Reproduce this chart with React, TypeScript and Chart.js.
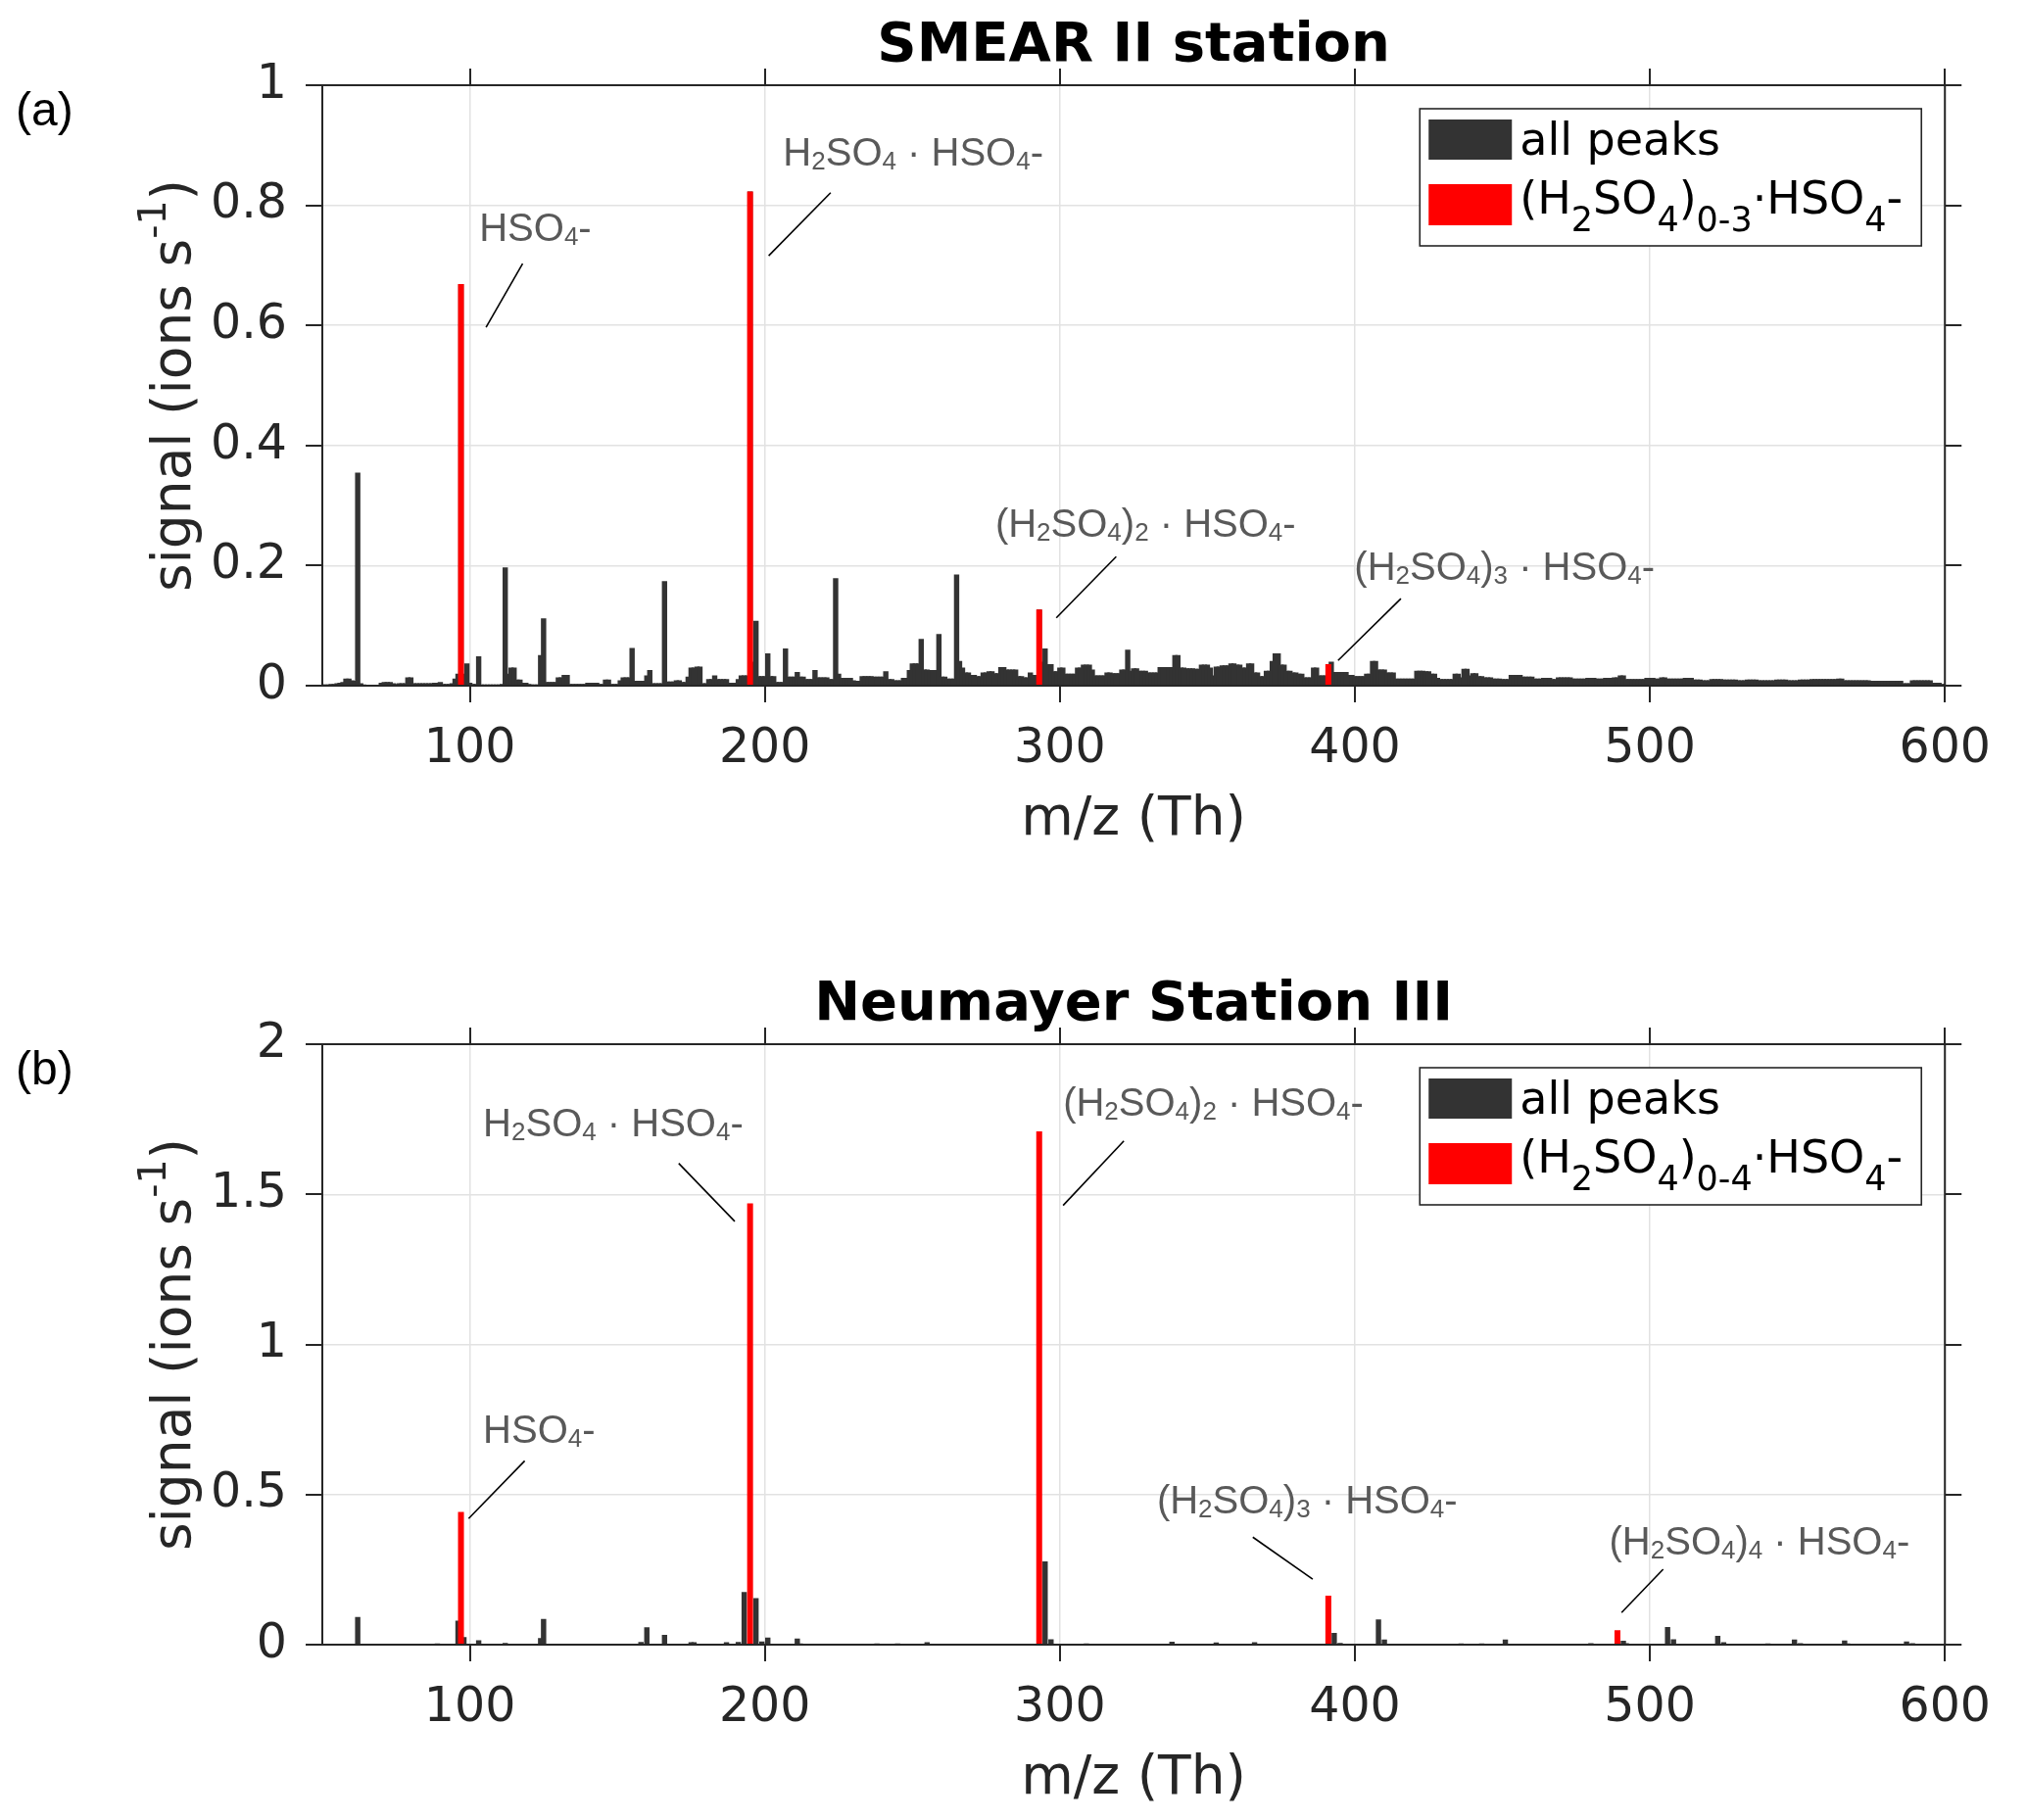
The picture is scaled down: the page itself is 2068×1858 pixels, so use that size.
import { useEffect, useRef } from 'react';
import { Chart, registerables } from 'chart.js';

Chart.register(...registerables);

// ---- data -------------------------------------------------------------

const mzTicks = [100, 200, 300, 400, 500, 600];
const MZ_MIN = 50;
const MZ_MAX = 600;

// (a) SMEAR II: unit-mass spectrum, one value per Th from m/z 50 to 600
const smearStartMz = 50;
const smearSignal = [
  /* 50 */ 0.002, 0.002, 0.002, 0.003, 0.003, 0.004, 0.005, 0.006, 0.012, 0.012,
  /* 60 */ 0.009, 0.008, 0.355, 0.004, 0.002, 0.001, 0.001, 0.001, 0.001, 0.001,
  /* 70 */ 0.005, 0.006, 0.006, 0.006, 0.004, 0.003, 0.004, 0.004, 0.004, 0.014,
  /* 80 */ 0.014, 0.004, 0.004, 0.004, 0.004, 0.004, 0.004, 0.004, 0.005, 0.005,
  /* 90 */ 0.006, 0.003, 0.003, 0.003, 0.004, 0.012, 0.020, 0.669, 0.020, 0.037,
  /* 100 */ 0.005, 0.003, 0.003, 0.049, 0.002, 0.002, 0.002, 0.002, 0.002, 0.002,
  /* 110 */ 0.002, 0.003, 0.197, 0.020, 0.030, 0.030, 0.010, 0.010, 0.005, 0.005,
  /* 120 */ 0.003, 0.002, 0.002, 0.002, 0.051, 0.112, 0.006, 0.006, 0.006, 0.006,
  /* 130 */ 0.014, 0.014, 0.018, 0.018, 0.003, 0.003, 0.003, 0.003, 0.003, 0.003,
  /* 140 */ 0.005, 0.005, 0.005, 0.005, 0.003, 0.003, 0.010, 0.010, 0.003, 0.003,
  /* 150 */ 0.003, 0.009, 0.014, 0.014, 0.014, 0.063, 0.008, 0.008, 0.008, 0.008,
  /* 160 */ 0.017, 0.026, 0.004, 0.004, 0.004, 0.004, 0.174, 0.007, 0.007, 0.007,
  /* 170 */ 0.009, 0.009, 0.006, 0.006, 0.015, 0.030, 0.030, 0.032, 0.032, 0.004,
  /* 180 */ 0.004, 0.011, 0.011, 0.017, 0.011, 0.011, 0.011, 0.011, 0.005, 0.005,
  /* 190 */ 0.005, 0.011, 0.017, 0.017, 0.017, 0.823, 0.040, 0.108, 0.016, 0.016,
  /* 200 */ 0.016, 0.054, 0.016, 0.016, 0.006, 0.006, 0.006, 0.062, 0.015, 0.015,
  /* 210 */ 0.015, 0.023, 0.015, 0.015, 0.011, 0.011, 0.011, 0.026, 0.014, 0.014,
  /* 220 */ 0.014, 0.014, 0.011, 0.011, 0.179, 0.020, 0.013, 0.013, 0.013, 0.013,
  /* 230 */ 0.009, 0.008, 0.008, 0.016, 0.016, 0.016, 0.016, 0.015, 0.015, 0.015,
  /* 240 */ 0.015, 0.024, 0.011, 0.011, 0.009, 0.009, 0.009, 0.013, 0.013, 0.026,
  /* 250 */ 0.037, 0.037, 0.037, 0.078, 0.027, 0.027, 0.026, 0.026, 0.026, 0.086,
  /* 260 */ 0.015, 0.015, 0.012, 0.012, 0.012, 0.185, 0.041, 0.030, 0.022, 0.022,
  /* 270 */ 0.018, 0.018, 0.016, 0.016, 0.022, 0.022, 0.024, 0.024, 0.021, 0.021,
  /* 280 */ 0.031, 0.031, 0.027, 0.027, 0.027, 0.027, 0.016, 0.016, 0.014, 0.014,
  /* 290 */ 0.022, 0.018, 0.018, 0.127, 0.040, 0.062, 0.036, 0.036, 0.024, 0.024,
  /* 300 */ 0.030, 0.030, 0.020, 0.020, 0.020, 0.020, 0.030, 0.030, 0.035, 0.035,
  /* 310 */ 0.035, 0.027, 0.017, 0.017, 0.017, 0.017, 0.022, 0.022, 0.021, 0.021,
  /* 320 */ 0.021, 0.027, 0.027, 0.060, 0.025, 0.029, 0.029, 0.025, 0.025, 0.025,
  /* 330 */ 0.022, 0.022, 0.022, 0.022, 0.031, 0.031, 0.031, 0.031, 0.031, 0.051,
  /* 340 */ 0.051, 0.030, 0.030, 0.029, 0.029, 0.029, 0.028, 0.028, 0.035, 0.035,
  /* 350 */ 0.035, 0.030, 0.017, 0.032, 0.032, 0.034, 0.034, 0.034, 0.037, 0.037,
  /* 360 */ 0.035, 0.035, 0.030, 0.030, 0.037, 0.037, 0.022, 0.022, 0.016, 0.016,
  /* 370 */ 0.025, 0.025, 0.041, 0.054, 0.054, 0.035, 0.035, 0.025, 0.025, 0.022,
  /* 380 */ 0.022, 0.020, 0.020, 0.014, 0.014, 0.014, 0.030, 0.030, 0.017, 0.017,
  /* 390 */ 0.017, 0.036, 0.040, 0.023, 0.023, 0.023, 0.023, 0.023, 0.018, 0.018,
  /* 400 */ 0.016, 0.016, 0.016, 0.016, 0.020, 0.020, 0.041, 0.041, 0.027, 0.027,
  /* 410 */ 0.027, 0.022, 0.022, 0.022, 0.012, 0.012, 0.012, 0.012, 0.012, 0.012,
  /* 420 */ 0.012, 0.025, 0.025, 0.025, 0.024, 0.024, 0.020, 0.020, 0.013, 0.011,
  /* 430 */ 0.011, 0.011, 0.011, 0.011, 0.020, 0.020, 0.014, 0.028, 0.028, 0.017,
  /* 440 */ 0.021, 0.021, 0.016, 0.016, 0.014, 0.014, 0.014, 0.012, 0.012, 0.012,
  /* 450 */ 0.011, 0.011, 0.011, 0.018, 0.018, 0.018, 0.018, 0.015, 0.015, 0.015,
  /* 460 */ 0.015, 0.012, 0.012, 0.012, 0.013, 0.013, 0.013, 0.011, 0.011, 0.014,
  /* 470 */ 0.014, 0.014, 0.014, 0.014, 0.012, 0.012, 0.012, 0.012, 0.012, 0.013,
  /* 480 */ 0.013, 0.013, 0.012, 0.012, 0.012, 0.013, 0.013, 0.013, 0.014, 0.014,
  /* 490 */ 0.017, 0.017, 0.011, 0.011, 0.011, 0.011, 0.011, 0.011, 0.011, 0.013,
  /* 500 */ 0.013, 0.013, 0.012, 0.012, 0.014, 0.014, 0.012, 0.012, 0.012, 0.012,
  /* 510 */ 0.012, 0.012, 0.013, 0.013, 0.013, 0.010, 0.010, 0.010, 0.009, 0.009,
  /* 520 */ 0.009, 0.011, 0.011, 0.011, 0.011, 0.010, 0.010, 0.010, 0.010, 0.010,
  /* 530 */ 0.009, 0.009, 0.009, 0.010, 0.010, 0.010, 0.010, 0.009, 0.009, 0.009,
  /* 540 */ 0.009, 0.009, 0.009, 0.010, 0.010, 0.010, 0.010, 0.009, 0.009, 0.009,
  /* 550 */ 0.009, 0.010, 0.010, 0.010, 0.010, 0.011, 0.011, 0.011, 0.011, 0.011,
  /* 560 */ 0.011, 0.011, 0.011, 0.011, 0.012, 0.012, 0.009, 0.009, 0.009, 0.009,
  /* 570 */ 0.009, 0.009, 0.009, 0.009, 0.009, 0.008, 0.008, 0.008, 0.008, 0.008,
  /* 580 */ 0.008, 0.008, 0.008, 0.008, 0.008, 0.008, 0.004, 0.004, 0.004, 0.009,
  /* 590 */ 0.009, 0.009, 0.009, 0.009, 0.009, 0.009, 0.005, 0.005, 0.005, 0.003,
  /* 600 */ 0.003,
];
const smearClusterMz = [97, 195, 293, 391];
const smearClusterSignal = [0.669, 0.823, 0.127, 0.036];
const smearYTicks = [0, 0.2, 0.4, 0.6, 0.8, 1];

// (b) Neumayer: mostly empty spectrum, only the visible peaks
const neumayerMz = [
  62, 78, 89, 96, 98, 103, 112, 124, 125, 152,
  158, 160, 166, 175, 176, 187, 191, 193, 197, 199,
  201, 211, 212, 238, 245, 252, 255, 273, 281, 295,
  297, 309, 338, 353, 366, 380, 393, 395, 408, 410,
  422, 436, 443, 451, 463, 480, 491, 492, 506, 508,
  523, 525, 540, 549, 551, 566, 567, 587, 589, 592,
];
const neumayerSignal = [
  0.092, 0.003, 0.004, 0.080, 0.025, 0.015, 0.006, 0.022, 0.086, 0.003,
  0.009, 0.058, 0.033, 0.008, 0.008, 0.008, 0.009, 0.175, 0.155, 0.011,
  0.024, 0.020, 0.004, 0.004, 0.004, 0.003, 0.008, 0.003, 0.003, 0.277,
  0.018, 0.004, 0.010, 0.007, 0.008, 0.003, 0.039, 0.006, 0.084, 0.017,
  0.003, 0.004, 0.004, 0.017, 0.003, 0.005, 0.013, 0.005, 0.059, 0.018,
  0.029, 0.008, 0.004, 0.017, 0.005, 0.014, 0.004, 0.011, 0.005, 0.003,
];
const neumayerClusterMz = [97, 195, 293, 391, 489];
const neumayerClusterSignal = [0.442, 1.47, 1.71, 0.163, 0.048];
const neumayerYTicks = [0, 0.5, 1, 1.5, 2];

// ---- text pieces (with sub/superscripts) -------------------------------

type Seg = { t: string; sub?: boolean; sup?: boolean };
const sub = (t: string): Seg => ({ t, sub: true });

const hso4Label: Seg[] = [{ t: 'HSO' }, sub('4'), { t: '-' }];
const dimerLabel: Seg[] = [{ t: 'H' }, sub('2'), { t: 'SO' }, sub('4'), { t: ' · HSO' }, sub('4'), { t: '-' }];
const clusterLabel = (n: string): Seg[] => [
  { t: '(H' }, sub('2'), { t: 'SO' }, sub('4'), { t: ')' }, sub(n), { t: ' · HSO' }, sub('4'), { t: '-' },
];
const legendClusterLabel = (range: string): Seg[] => [
  { t: '(H' }, sub('2'), { t: 'SO' }, sub('4'), { t: ')' }, sub(range), { t: '·HSO' }, sub('4'), { t: '-' },
];
const yTitle: Seg[] = [{ t: 'signal (ions s' }, { t: '-1', sup: true }, { t: ')' }];

type Note = { label: Seg[]; at: [number, number]; from: [number, number]; to: [number, number] };

const smearNotes: Note[] = [
  { label: hso4Label, at: [103.2, 0.741], from: [117.9, 0.703], to: [105.5, 0.597] },
  { label: dimerLabel, at: [206.2, 0.866], from: [222.3, 0.821], to: [201.3, 0.716] },
  { label: clusterLabel('2'), at: [278.1, 0.248], from: [319.1, 0.215], to: [298.8, 0.113] },
  { label: clusterLabel('3'), at: [399.8, 0.176], from: [415.6, 0.145], to: [394.3, 0.042] },
];

const neumayerNotes: Note[] = [
  { label: dimerLabel, at: [104.5, 1.694], from: [170.8, 1.603], to: [189.8, 1.41] },
  { label: clusterLabel('2'), at: [301.1, 1.762], from: [321.7, 1.678], to: [301.1, 1.463] },
  { label: hso4Label, at: [104.5, 0.671], from: [118.6, 0.612], to: [99.6, 0.42] },
  { label: clusterLabel('3'), at: [332.9, 0.436], from: [365.4, 0.358], to: [385.7, 0.218] },
  { label: clusterLabel('4'), at: [486.2, 0.3], from: [504.5, 0.251], to: [490.4, 0.107] },
];

// ---- drawing helpers ---------------------------------------------------

const W = 2068;
const H = 879;
const AXIS = '#262626';
const GRID = '#e2e2e2';
const DEJAVU = '"DejaVu Sans", sans-serif';
const HELV = '"Liberation Sans", Arial, sans-serif';

type RichOpts = { family: string; size: number; weight?: string; small: number; drop: number; rise: number };

function richRun(ctx: CanvasRenderingContext2D, segs: Seg[], x: number, y: number, o: RichOpts, draw: boolean) {
  let cx = x;
  for (const s of segs) {
    const small = s.sub || s.sup;
    const fs = small ? o.size * o.small : o.size;
    ctx.font = `${o.weight || 'normal'} ${fs}px ${o.family}`;
    const dy = s.sub ? o.size * o.drop : s.sup ? -o.size * o.rise : 0;
    if (draw) ctx.fillText(s.t, cx, y + dy);
    cx += ctx.measureText(s.t).width;
  }
  return cx - x;
}

type PanelProps = {
  top: number;
  title: string;
  tag: string;
  peakMz: number[];
  peakSignal: number[];
  clusterMz: number[];
  clusterSignal: number[];
  clusterLegend: Seg[];
  yMax: number;
  yTicks: number[];
  notes: Note[];
};

function SpectrumPanel(p: PanelProps) {
  const canvasRef = useRef<HTMLCanvasElement>(null);

  useEffect(() => {
    const canvas = canvasRef.current;
    if (!canvas) return;

    const decor = {
      id: 'decor',
      afterDraw(chart: any) {
        const { ctx, chartArea: a, scales } = chart;
        const xs = scales.x;
        const ys = scales.y;
        const tick = 17;
        ctx.save();

        // box with outward ticks on all four sides
        ctx.strokeStyle = AXIS;
        ctx.lineWidth = 2;
        ctx.beginPath();
        ctx.rect(a.left, a.top, a.right - a.left, a.bottom - a.top);
        for (const v of mzTicks) {
          const px = Math.round(xs.getPixelForValue(v));
          ctx.moveTo(px, a.bottom);
          ctx.lineTo(px, a.bottom + tick);
          ctx.moveTo(px, a.top);
          ctx.lineTo(px, a.top - tick);
        }
        for (const v of p.yTicks) {
          const py = Math.round(ys.getPixelForValue(v));
          ctx.moveTo(a.left - tick, py);
          ctx.lineTo(a.left, py);
          ctx.moveTo(a.right, py);
          ctx.lineTo(a.right + tick, py);
        }
        ctx.stroke();

        const cx = (a.left + a.right) / 2;

        // panel title
        ctx.fillStyle = '#000';
        ctx.textAlign = 'center';
        ctx.textBaseline = 'alphabetic';
        ctx.font = `bold 56px ${DEJAVU}`;
        ctx.fillText(p.title, cx, a.top - 25);

        // (a) / (b)
        ctx.textAlign = 'left';
        ctx.font = `48px ${HELV}`;
        ctx.fillText(p.tag, 16, a.top + 41);

        // x title
        ctx.fillStyle = AXIS;
        ctx.textAlign = 'center';
        ctx.font = `55px ${DEJAVU}`;
        ctx.fillText('m/z (Th)', cx, a.bottom + 152);

        // y title, rotated
        ctx.textAlign = 'left';
        const yOpts: RichOpts = { family: DEJAVU, size: 55, small: 0.72, drop: 0, rise: 0.45 };
        const tw = richRun(ctx, yTitle, 0, 0, yOpts, false);
        ctx.save();
        ctx.translate(194, (a.top + a.bottom) / 2);
        ctx.rotate(-Math.PI / 2);
        richRun(ctx, yTitle, -tw / 2, 0, yOpts, true);
        ctx.restore();

        // annotations
        const noteOpts: RichOpts = { family: HELV, size: 40, small: 0.65, drop: 0.1, rise: 0 };
        for (const n of p.notes) {
          ctx.fillStyle = '#595959';
          richRun(ctx, n.label, xs.getPixelForValue(n.at[0]), ys.getPixelForValue(n.at[1]), noteOpts, true);
          ctx.strokeStyle = '#000';
          ctx.lineWidth = 1.6;
          ctx.beginPath();
          ctx.moveTo(xs.getPixelForValue(n.from[0]), ys.getPixelForValue(n.from[1]));
          ctx.lineTo(xs.getPixelForValue(n.to[0]), ys.getPixelForValue(n.to[1]));
          ctx.stroke();
        }

        // legend
        const bw = 512;
        const bh = 140;
        const bx = a.right - 24 - bw;
        const by = a.top + 24;
        ctx.fillStyle = '#fff';
        ctx.fillRect(bx, by, bw, bh);
        ctx.strokeStyle = AXIS;
        ctx.lineWidth = 1.6;
        ctx.strokeRect(bx, by, bw, bh);
        ctx.fillStyle = '#333333';
        ctx.fillRect(bx + 9, by + 11, 85, 41);
        ctx.fillStyle = '#ff0000';
        ctx.fillRect(bx + 9, by + 77, 85, 42);
        ctx.fillStyle = '#000';
        const legOpts: RichOpts = { family: DEJAVU, size: 46, small: 0.76, drop: 0.4, rise: 0 };
        richRun(ctx, [{ t: 'all peaks' }], bx + 102, by + 47, legOpts, true);
        richRun(ctx, p.clusterLegend, bx + 102, by + 107, legOpts, true);

        ctx.restore();
      },
    };

    const tickFont = { family: 'DejaVu Sans', size: 49 };

    const chart = new Chart(canvas, {
      type: 'bar',
      data: {
        datasets: [
          {
            label: 'cluster',
            data: p.clusterMz.map((x, i) => ({ x, y: p.clusterSignal[i] })),
            backgroundColor: '#ff0000',
            grouped: false,
            barPercentage: 2,
            categoryPercentage: 1,
            borderWidth: 0,
            order: 0,
          },
          {
            label: 'all peaks',
            data: p.peakMz.map((x, i) => ({ x, y: p.peakSignal[i] })),
            backgroundColor: '#333333',
            grouped: false,
            barPercentage: 1.8,
            categoryPercentage: 1,
            borderWidth: 0,
            order: 1,
          },
        ],
      } as any,
      options: {
        responsive: false,
        animation: false,
        devicePixelRatio: 1,
        events: [],
        layout: { padding: { top: 87, right: 63, bottom: 0, left: 0 } },
        plugins: {
          legend: { display: false },
          title: { display: false },
          tooltip: { enabled: false },
        },
        scales: {
          x: {
            type: 'linear',
            min: MZ_MIN,
            max: MZ_MAX,
            offset: false,
            grid: { offset: false, color: GRID, lineWidth: 1.5, drawTicks: false },
            border: { display: false },
            ticks: {
              font: tickFont,
              color: AXIS,
              padding: 36,
              maxRotation: 0,
              autoSkip: false,
              callback: (v: any) => String(v),
            },
            afterBuildTicks: (s: any) => {
              s.ticks = mzTicks.map((value) => ({ value }));
            },
            afterFit: (s: any) => {
              s.height = H - 700;
            },
          },
          y: {
            type: 'linear',
            min: 0,
            max: p.yMax,
            grid: { color: GRID, lineWidth: 1.5, drawTicks: false },
            border: { display: false },
            ticks: {
              font: tickFont,
              color: AXIS,
              padding: 36,
              autoSkip: false,
              callback: (v: any) => String(v),
            },
            afterBuildTicks: (s: any) => {
              s.ticks = p.yTicks.map((value) => ({ value }));
            },
            afterFit: (s: any) => {
              s.width = 329;
            },
          },
        },
      } as any,
      plugins: [decor],
    });

    return () => {
      chart.destroy();
    };
  }, []);

  return (
    <canvas
      ref={canvasRef}
      width={W}
      height={H}
      style={{ position: 'absolute', left: 0, top: p.top, width: W, height: H }}
    />
  );
}

export default function App() {
  const smearMz = smearSignal.map((_, i) => smearStartMz + i);
  return (
    <div style={{ position: 'absolute', left: 0, top: 0, width: 2068, height: 1858, background: '#fff' }}>
      <SpectrumPanel
        top={0}
        title="SMEAR II station"
        tag="(a)"
        peakMz={smearMz}
        peakSignal={smearSignal}
        clusterMz={smearClusterMz}
        clusterSignal={smearClusterSignal}
        clusterLegend={legendClusterLabel('0-3')}
        yMax={1}
        yTicks={smearYTicks}
        notes={smearNotes}
      />
      <SpectrumPanel
        top={979}
        title="Neumayer Station III"
        tag="(b)"
        peakMz={neumayerMz}
        peakSignal={neumayerSignal}
        clusterMz={neumayerClusterMz}
        clusterSignal={neumayerClusterSignal}
        clusterLegend={legendClusterLabel('0-4')}
        yMax={2}
        yTicks={neumayerYTicks}
        notes={neumayerNotes}
      />
    </div>
  );
}
